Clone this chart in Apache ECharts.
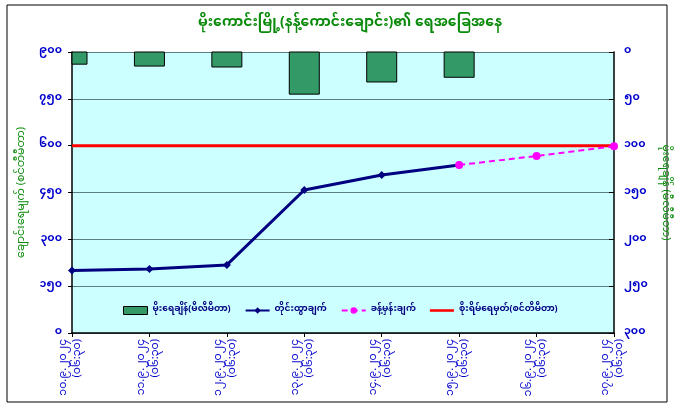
<!DOCTYPE html>
<html><head><meta charset="utf-8">
<script src="https://cdn.jsdelivr.net/npm/echarts@6/dist/echarts.min.js"></script>
<style>html,body{margin:0;padding:0;background:#fff}#c{width:678px;height:409px}</style>
</head><body><div id="c"></div>
<script>
var categories = ['၁၀.၉.၂၀၂၄\n(၀၆:၃၀)','၁၁.၉.၂၀၂၄\n(၀၆:၃၀)','၁၂.၉.၂၀၂၄\n(၀၆:၃၀)','၁၃.၉.၂၀၂၄\n(၀၆:၃၀)','၁၄.၉.၂၀၂၄\n(၀၆:၃၀)','၁၅.၉.၂၀၂၄\n(၀၆:၃၀)','၁၆.၉.၂၀၂၄\n(၀၆:၃၀)','၁၇.၉.၂၀၂၄\n(၀၆:၃၀)'];
var rainfall = [13, 15, 16, 45, 32, 27, null, null];
var measured = [200, 205, 218, 458, 506, 538, null, null];
var forecast = [null, null, null, null, null, 538, 567, 598];
var danger = [600, 600, 600, 600, 600, 600, 600, 600];
var leftTicks = ['၀','၁၅၀','၃၀၀','၄၅၀','၆၀၀','၇၅၀','၉၀၀'];
var rightTicks = ['၀','၅၀','၁၀၀','၁၅၀','၂၀၀','၂၅၀','၃၀၀'];
var names = ['မိုးရေချိန်(မီလီမီတာ)','တိုင်းထွာချက်','ခန့်မှန်းချက်','စိုးရိမ်ရေမှတ်(စင်တီမီတာ)'];
var FF = "'Noto Sans Myanmar','Padauk','Myanmar Text','Noto Sans',sans-serif";

var barData = [];
rainfall.forEach(function(v, i){ if (v != null) barData.push([i, v]); });

function renderBar(params, api) {
  var x = api.value(0), v = api.value(1);
  var p0 = api.coord([x, 0]);
  var p1 = api.coord([x, v]);
  var w = 30;
  var cs = params.coordSys;
  var r = echarts.graphic.clipRectByRect(
    {x: p0[0] - w / 2, y: p0[1], width: w, height: p1[1] - p0[1]},
    {x: cs.x, y: cs.y, width: cs.width, height: cs.height});
  if (!r) return;
  return {type: 'rect', shape: r, style: {fill: '#339966', stroke: '#000', lineWidth: 1}};
}

var chart = echarts.init(document.getElementById('c'));
chart.setOption({
  animation: false,
  backgroundColor: '#fff',
  textStyle: {fontFamily: FF},
  graphic: [
    {type:'rect', shape:{x:7,y:5,width:660,height:397}, style:{fill:'none', stroke:'#000', lineWidth:1}, z:-1}
  ],
  title: {
    text: 'မိုးကောင်းမြို့(နန့်ကောင်းချောင်း)၏ ရေအခြေအနေ',
    left: 345, top: 13, textAlign: 'center',
    textStyle: {color:'#0a8a0a', fontSize:14, fontWeight:'bold', fontFamily: FF}
  },
  legend: {
    top: 301, left: 118, itemGap: 14, itemWidth: 24, itemHeight: 8,
    textStyle: {color:'#000080', fontSize:9, fontWeight:'bold', fontFamily: FF},
    data: [
      {name: names[0], icon:'rect', itemStyle:{color:'#339966', borderColor:'#000', borderWidth:1}},
      {name: names[1]},
      {name: names[2]},
      {name: names[3], icon:'path://M0,0L28,0L28,3L0,3Z', itemStyle:{color:'#ff0000'}}
    ]
  },
  grid: {left:72, right:64, top:52, bottom:76, show:true, backgroundColor:'#ccffff', borderWidth:0},
  xAxis: {
    type:'category', data: categories, boundaryGap:false,
    axisLine:{lineStyle:{color:'#000', width:1.5}},
    axisTick:{show:true, lineStyle:{color:'#000'}, length:4},
    axisLabel:{rotate:90, color:'#0000cc', fontSize:11, lineHeight:14, fontFamily:FF, interval:0, margin:6}
  },
  yAxis: [
    {type:'value', min:0, max:900, interval:150, position:'left',
     name:'ချောင်းရေမျက် (စင်တီမီတာ)', nameLocation:'middle', nameGap:36, nameRotate:90,
     nameTextStyle:{color:'#0a8a0a', fontSize:11, fontFamily:FF},
     axisLine:{show:true, lineStyle:{color:'#000', width:1.5}},
     axisTick:{show:true, length:4, lineStyle:{color:'#000'}},
     splitLine:{show:true, lineStyle:{color:'#5f8080', width:1}},
     axisLabel:{color:'#0000cc', fontSize:11, fontWeight:'bold', margin:10, fontFamily:FF,
       formatter:function(v){return leftTicks[Math.round(v/150)];}}},
    {type:'value', min:0, max:300, interval:50, position:'right', inverse:true,
     name:'မိုးရေချိန် (မီလီမီတာ)', nameLocation:'middle', nameGap:26, nameRotate:-90,
     nameTextStyle:{color:'#0a8a0a', fontSize:11, fontFamily:FF},
     axisLine:{show:true, lineStyle:{color:'#000', width:1.5}},
     axisTick:{show:true, inside:true, length:5, lineStyle:{color:'#000'}},
     splitLine:{show:false},
     axisLabel:{color:'#0000cc', fontSize:11, fontWeight:'bold', margin:10, fontFamily:FF,
       formatter:function(v){return rightTicks[Math.round(v/50)];}}}
  ],
  series: [
    {name:names[0], type:'custom', yAxisIndex:1, data:barData, renderItem:renderBar,
     encode:{x:0, y:1}, itemStyle:{color:'#339966'}, z:1},
    {name:names[1], type:'line', yAxisIndex:0, data:measured, symbol:'diamond', symbolSize:8,
     lineStyle:{color:'#000080', width:3}, itemStyle:{color:'#000080'}, z:3},
    {name:names[2], type:'line', yAxisIndex:0, data:forecast, symbol:'circle', symbolSize:8,
     lineStyle:{color:'#ff00ff', width:2, type:[6,4]}, itemStyle:{color:'#ff00ff'}, z:4},
    {name:names[3], type:'line', yAxisIndex:0, data:danger, symbol:'none',
     lineStyle:{color:'#ff0000', width:3}, itemStyle:{color:'#ff0000'}, z:2}
  ]
});
</script></body></html>
